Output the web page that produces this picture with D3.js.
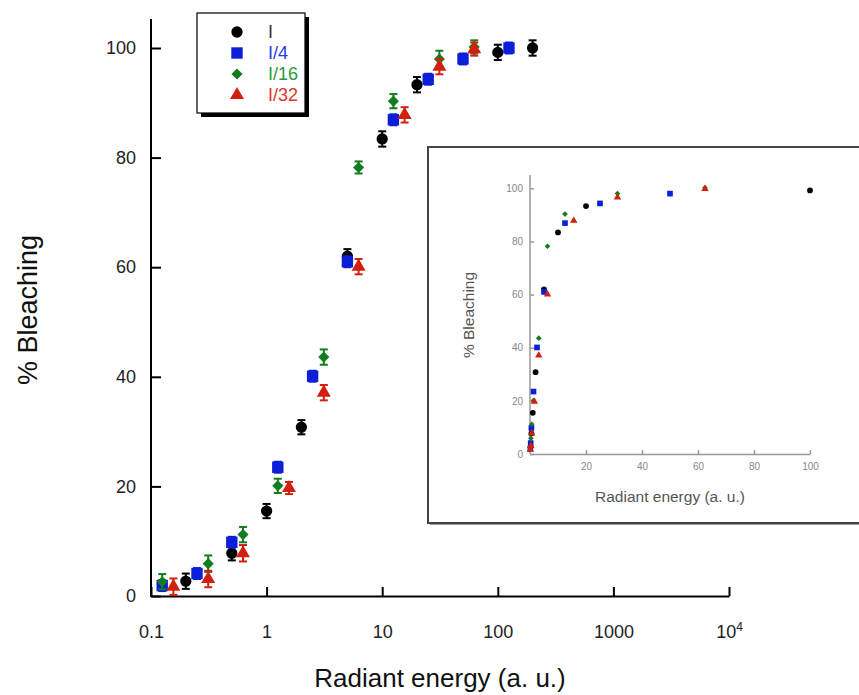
<!DOCTYPE html>
<html>
<head>
<meta charset="utf-8">
<script src="https://cdn.jsdelivr.net/npm/d3@7"></script>
<style>
  body { margin: 0; background: #fff; }
  svg { display: block; font-family: "Liberation Sans", Arial, sans-serif; }
</style>
</head>
<body>
<svg id="chart" width="859" height="695"></svg>
<script>
// values (x = radiant energy, y = % bleaching, e = error bar half height)
const seriesNames = ['I', 'I/4', 'I/16', 'I/32']

const xI = [0.2, 0.5, 1, 2, 5, 10, 20, 100, 200]
const yI = [2.7, 7.8, 15.5, 30.8, 62, 83.4, 93.3, 99.2, 100]
const eI = [1.4, 1.3, 1.3, 1.3, 1.3, 1.4, 1.4, 1.4, 1.4]

const x4 = [0.125, 0.25, 0.5, 1.25, 2.5, 5, 12.5, 25, 50, 125]
const y4 = [1.9, 4.1, 9.8, 23.5, 40.1, 61, 86.9, 94.3, 98, 100]
const e4 = [1.0, 1.0, 1.0, 1.0, 1.0, 1.0, 1.0, 1.0, 1.0, 1.0]

const x16 = [0.125, 0.3125, 0.625, 1.25, 3.125, 6.25, 12.5, 31.25, 62.5]
const y16 = [2.6, 5.9, 11.2, 20.1, 43.6, 78.2, 90.3, 98, 100.2]
const e16 = [1.4, 1.5, 1.4, 1.3, 1.4, 1.1, 1.3, 1.5, 1.2]

const x32 = [0.15625, 0.3125, 0.625, 1.5625, 3.125, 6.25, 15.625, 31.25, 62.5]
const y32 = [1.7, 3.1, 7.8, 19.7, 37.1, 60.1, 87.8, 96.6, 99.8]
const e32 = [1.5, 1.5, 1.5, 1.1, 1.4, 1.4, 1.4, 1.4, 1.2]

const xTicks = [0.1, 1, 10, 100, 1000, 10000]
const xTickLabels = ['0.1', '1', '10', '100', '1000', '10^4']
const yTicks = [0, 20, 40, 60, 80, 100]
const insetXTicks = [20, 40, 60, 80, 100]
const insetYTicks = [0, 20, 40, 60, 80, 100]

// colours + marker shapes per series
const markColors = ['#000000', '#0b1fd8', '#127d1e', '#d2200f']
const labelColors = ['#333333', '#2b3ae8', '#2e9a3e', '#e0352a']
const shapes = [d3.symbolCircle, d3.symbolSquare, d3.symbolSquare, d3.symbolTriangle]
const rotations = [0, 0, 45, 0]
const bigSizes = [100, 130, 62, 85]
const smallSizes = [26, 32, 16, 24]

// build a little table out of the arrays
const xs = [xI, x4, x16, x32], ys = [yI, y4, y16, y32], es = [eI, e4, e16, e32]
const series = seriesNames.map((name, i) => ({
    name, i,
    points: xs[i].map((x, j) => ({x, y: ys[i][j], e: es[i][j]}))
}))

const svg = d3.select('#chart')

// ---------- main (log) chart ----------
const xScale = d3.scaleLog().domain([0.1, 10000]).range([151, 729])
const yScale = d3.scaleLinear().domain([0, 100]).range([596, 48])

const xAxis = d3.axisBottom(xScale)
    .tickValues(xTicks)
    .tickSize(-9)
    .tickSizeOuter(0)
    .tickPadding(29)
    .tickFormat((d, i) => xTickLabels[i])
const gx = svg.append('g').attr('transform', 'translate(0,596)').call(xAxis)
gx.select('.domain').attr('stroke', '#000').attr('stroke-width', 2)
gx.selectAll('.tick line').attr('stroke', '#000').attr('stroke-width', 2)
gx.selectAll('.tick text')
    .attr('font-size', 18).attr('fill', '#222').attr('font-family', null)
    .each(function(d, i) {
        const lab = xTickLabels[i]
        if (lab.includes('^')) {
            const [base, pow] = lab.split('^')
            const t = d3.select(this).text(null)
            t.append('tspan').text(base)
            t.append('tspan').attr('font-size', 12).attr('dy', '-0.6em').text(pow)
        }
    })

const yAxis = d3.axisLeft(yScale)
    .tickValues(yTicks)
    .tickSize(-10)
    .tickSizeOuter(0)
    .tickPadding(15)
const gy = svg.append('g').attr('transform', 'translate(151,0)').call(yAxis)
gy.select('.domain').remove()
gy.selectAll('.tick line').attr('stroke', '#000').attr('stroke-width', 2)
gy.selectAll('.tick text').attr('font-size', 18).attr('fill', '#222').attr('font-family', null)
// y axis line runs a bit above 100
svg.append('line')
    .attr('x1', 151).attr('x2', 151)
    .attr('y1', yScale(0) + 1).attr('y2', 19)
    .attr('stroke', '#000').attr('stroke-width', 2)

// axis titles
svg.append('text')
    .attr('x', 440).attr('y', 687)
    .attr('text-anchor', 'middle')
    .attr('font-size', 26).attr('fill', '#111')
    .text('Radiant energy (a. u.)')
svg.append('text')
    .attr('transform', 'translate(37,310) rotate(-90)')
    .attr('text-anchor', 'middle')
    .attr('font-size', 27).attr('fill', '#111')
    .text('% Bleaching')

// points + error bars
function drawSeries(g, sx, sy, sizes, withErr) {
    const groups = g.selectAll('.series')
        .data(series)
        .join('g')
        .attr('class', 'series')
        .attr('fill', d => markColors[d.i])
        .attr('stroke', d => markColors[d.i])

    const pts = groups.selectAll('.pt')
        .data(d => d.points.filter(p => sx.domain()[1] >= p.x).map(p => ({...p, i: d.i})))
        .join('g')
        .attr('class', 'pt')
        .attr('transform', p => `translate(${sx(p.x)},${sy(p.y)})`)

    if (withErr) {
        const top = p => sy(p.y + p.e) - sy(p.y)
        const bot = p => sy(p.y - p.e) - sy(p.y)
        pts.append('line')
            .attr('y1', bot).attr('y2', top)
            .attr('stroke-width', 2)
        pts.append('line')
            .attr('x1', -4).attr('x2', 4)
            .attr('y1', top).attr('y2', top)
            .attr('stroke-width', 2)
        pts.append('line')
            .attr('x1', -4).attr('x2', 4)
            .attr('y1', bot).attr('y2', bot)
            .attr('stroke-width', 2)
    }
    pts.append('path')
        .attr('stroke', 'none')
        .attr('transform', p => `rotate(${rotations[p.i]})`)
        .attr('d', p => d3.symbol(shapes[p.i], sizes[p.i])())
}
drawSeries(svg.append('g'), xScale, yScale, bigSizes, true)

// ---------- legend ----------
const legend = svg.append('g')
legend.append('rect')
    .attr('x', 201).attr('y', 17).attr('width', 108).attr('height', 100)
    .attr('fill', '#000')
legend.append('rect')
    .attr('x', 197).attr('y', 13).attr('width', 108).attr('height', 100)
    .attr('fill', '#fff').attr('stroke', '#000').attr('stroke-width', 1.2)
const legendRows = legend.selectAll('.row')
    .data(series)
    .join('g')
    .attr('class', 'row')
    .attr('transform', (d, i) => `translate(0,${32 + i * 21})`)
legendRows.append('path')
    .attr('transform', d => `translate(237,0) rotate(${rotations[d.i]})`)
    .attr('fill', d => markColors[d.i])
    .attr('d', d => d3.symbol(shapes[d.i], bigSizes[d.i])())
legendRows.append('text')
    .attr('x', 268).attr('y', 6)
    .attr('font-size', 18)
    .attr('fill', d => labelColors[d.i])
    .text(d => d.name)

// ---------- inset (linear) ----------
const inset = svg.append('g')
inset.append('rect')
    .attr('x', 430).attr('y', 149).attr('width', 440).attr('height', 376)
    .attr('fill', '#9a9a9a')
inset.append('rect')
    .attr('x', 428).attr('y', 147).attr('width', 440).attr('height', 376)
    .attr('fill', '#fff').attr('stroke', '#444').attr('stroke-width', 2)

const ixScale = d3.scaleLinear().domain([0, 100]).range([530, 810])
const iyScale = d3.scaleLinear().domain([0, 100]).range([454, 188.3])

const ixAxis = d3.axisBottom(ixScale)
    .tickValues(insetXTicks)
    .tickSize(-4)
    .tickSizeOuter(0)
    .tickPadding(9)
const igx = inset.append('g').attr('transform', 'translate(0,454)').call(ixAxis)
igx.select('.domain').attr('stroke', '#999').attr('stroke-width', 1.5)
igx.selectAll('.tick line').attr('stroke', '#999').attr('stroke-width', 1.5)
igx.selectAll('.tick text').attr('font-size', 10).attr('fill', '#888').attr('font-family', null)

const iyAxis = d3.axisLeft(iyScale)
    .tickValues(insetYTicks)
    .tickSize(-4)
    .tickSizeOuter(0)
    .tickPadding(7)
const igy = inset.append('g').attr('transform', 'translate(530,0)').call(iyAxis)
igy.select('.domain').remove()
igy.selectAll('.tick line').attr('stroke', '#999').attr('stroke-width', 1.5)
igy.selectAll('.tick text').attr('font-size', 10).attr('fill', '#888').attr('font-family', null)
inset.append('line')
    .attr('x1', 530).attr('x2', 530)
    .attr('y1', 454).attr('y2', 175)
    .attr('stroke', '#999').attr('stroke-width', 1.5)

inset.append('text')
    .attr('x', 670).attr('y', 502)
    .attr('text-anchor', 'middle')
    .attr('font-size', 15.5).attr('fill', '#555')
    .text('Radiant energy (a. u.)')
inset.append('text')
    .attr('transform', 'translate(474,315) rotate(-90)')
    .attr('text-anchor', 'middle')
    .attr('font-size', 15.5).attr('fill', '#555')
    .text('% Bleaching')

drawSeries(inset.append('g'), ixScale, iyScale, smallSizes, false)
</script>
</body>
</html>
